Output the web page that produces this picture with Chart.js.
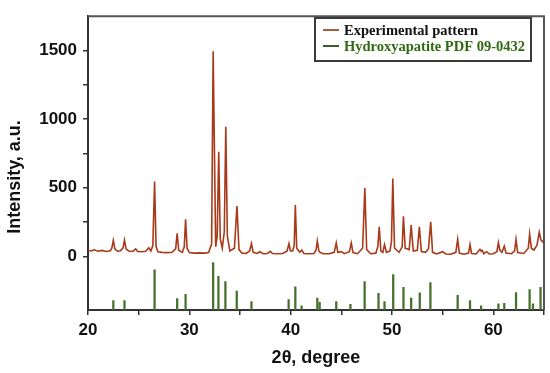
<!DOCTYPE html>
<html>
<head>
<meta charset="utf-8">
<script src="https://cdn.jsdelivr.net/npm/chart.js@4.4.1/dist/chart.umd.min.js"></script>
<style>
    html, body { margin: 0; padding: 0; background: #fff; }
</style>
</head>
<body>
<canvas id="xrd-chart" width="550" height="373"></canvas>
<script>
'use strict';

// ==================== DATA ====================

// Experimental pattern: [2theta, intensity]
const expPattern = [
    [20.0, 45], [20.3, 40], [20.6, 48], [21.0, 38], [21.4, 44], [21.8, 36], [22.2, 42],
    [22.35, 60], [22.5, 117], [22.65, 55], [22.9, 38], [23.2, 42], [23.45, 60], [23.6, 120],
    [23.75, 55], [24.0, 40], [24.4, 36], [24.7, 55], [24.9, 36], [25.3, 34], [25.7, 38],
    [26.0, 63], [26.2, 40], [26.4, 80], [26.57, 545], [26.72, 70], [26.9, 34], [27.3, 30],
    [27.8, 28], [28.3, 30], [28.65, 55], [28.8, 169], [28.95, 45], [29.3, 30], [29.5, 70],
    [29.63, 270], [29.78, 60], [30.0, 28], [30.5, 24], [31.0, 26], [31.5, 24], [31.9, 28],
    [32.2, 90], [32.35, 1494], [32.6, 70], [32.75, 150], [32.9, 762], [33.05, 130],
    [33.25, 60], [33.45, 180], [33.6, 945], [33.75, 150], [34.0, 40], [34.45, 60],
    [34.7, 368], [34.9, 50], [35.2, 24], [35.6, 22], [35.95, 40], [36.13, 94], [36.3, 30],
    [36.7, 22], [36.95, 34], [37.3, 20], [37.7, 22], [38.0, 38], [38.2, 22], [38.7, 20],
    [39.2, 22], [39.65, 40], [39.83, 94], [39.98, 40], [40.2, 40], [40.35, 80], [40.46, 375],
    [40.6, 60], [40.9, 30], [41.1, 47], [41.3, 22], [41.8, 20], [42.3, 22], [42.5, 45],
    [42.63, 113], [42.78, 40], [42.9, 30], [43.2, 20], [43.8, 20], [44.3, 30], [44.5, 99],
    [44.65, 30], [45.0, 35], [45.3, 20], [45.8, 35], [45.98, 99], [46.15, 28], [46.6, 20],
    [47.1, 60], [47.32, 498], [47.5, 50], [47.9, 20], [48.4, 24], [48.6, 70], [48.74, 216],
    [48.9, 40], [49.1, 30], [49.26, 87], [49.45, 30], [49.8, 40], [49.95, 110], [50.08, 568],
    [50.25, 60], [50.7, 30], [51.0, 70], [51.13, 293], [51.3, 60], [51.7, 50], [51.89, 228],
    [52.1, 40], [52.5, 45], [52.7, 216], [52.9, 35], [53.3, 30], [53.6, 55], [53.82, 253],
    [54.0, 30], [54.4, 18], [55.0, 35], [55.3, 18], [55.8, 16], [56.3, 30], [56.48, 125],
    [56.65, 25], [57.1, 16], [57.55, 25], [57.7, 87], [57.85, 22], [58.3, 18], [58.68, 52],
    [58.8, 38], [58.9, 45], [59.05, 20], [59.34, 35], [59.6, 18], [60.0, 20], [60.35, 35],
    [60.5, 101], [60.65, 45], [60.85, 30], [61.08, 75], [61.25, 25], [61.8, 20], [62.1, 40],
    [62.24, 125], [62.4, 28], [63.0, 22], [63.45, 60], [63.58, 164], [63.75, 60], [64.0, 47],
    [64.3, 80], [64.53, 176], [64.7, 120], [64.85, 110], [65.0, 95]
];

// Reference card PDF 09-0432: line positions and relative intensities (%)
const pdfTheta = [
    22.5, 23.6, 26.57, 28.8, 29.63, 32.35, 32.87, 33.56, 34.68, 36.13, 39.8, 40.46, 41.08,
    42.63, 42.86, 44.5, 45.9, 47.3, 48.67, 49.26, 50.12, 51.13, 51.89, 52.74, 53.79, 56.48,
    57.7, 58.79, 60.5, 61.08, 62.24, 63.58, 63.91, 64.66
];
const pdfRelIntensity = [
    20, 20, 85, 24, 33, 100, 71, 60, 40, 18, 22, 49, 9,
    25, 16, 18, 12, 60, 35, 18, 75, 48, 25, 36, 58, 31,
    20, 9, 13, 14, 37, 43, 13, 48
];

const seriesLabels = ['Experimental pattern', 'Hydroxyapatite PDF 09-0432'];
const xTickValues = [20, 25, 30, 35, 40, 45, 50, 55, 60, 65];
const xLabelValues = [20, 30, 40, 50, 60];
const yTickValues = [0, 250, 500, 750, 1000, 1250, 1500];
const yLabelValues = [0, 500, 1000, 1500];
const xTitle = '2\u03b8, degree';
const yTitle = 'Intensity, a.u.';

// ==================== PLUGINS ====================

const framePlugin = {
    id: 'frame',
    afterDraw(chart) {
        const { ctx, chartArea: a } = chart;
        ctx.save();
        ctx.strokeStyle = '#555';
        ctx.lineWidth = 2;
        ctx.beginPath();
        ctx.moveTo(a.left, a.top);
        ctx.lineTo(a.right, a.top);
        ctx.lineTo(a.right, a.bottom);
        ctx.stroke();

        // y title, set lower than the axis centre as in the source figure
        ctx.fillStyle = '#111';
        ctx.font = 'bold 18px "Liberation Sans", Arial, sans-serif';
        ctx.textAlign = 'center';
        ctx.textBaseline = 'middle';
        ctx.translate(15, 177);
        ctx.rotate(-Math.PI / 2);
        ctx.fillText(yTitle, 0, 0);
        ctx.restore();
    }
};

const boxLegendPlugin = {
    id: 'boxLegend',
    afterDraw(chart) {
        const ctx = chart.ctx;
        const textColors = ['#111', '#2f6a12'];
        ctx.save();
        ctx.fillStyle = '#fff';
        ctx.fillRect(315, 18, 216, 43);
        ctx.strokeStyle = '#3a3a3a';
        ctx.lineWidth = 2;
        ctx.strokeRect(315, 18, 216, 43);
        ctx.font = 'bold 14.5px "Liberation Serif", "Times New Roman", serif';
        ctx.textBaseline = 'middle';
        chart.data.datasets.forEach((ds, i) => {
            const y = 30 + i * 16;
            ctx.strokeStyle = ds.legendColor;
            ctx.lineWidth = 2;
            ctx.beginPath();
            ctx.moveTo(323, y);
            ctx.lineTo(339, y);
            ctx.stroke();
            ctx.fillStyle = textColors[i];
            ctx.fillText(ds.label, 344, y + 1);
        });
        ctx.restore();
    }
};

// ==================== CHART ====================

const ctx = document.getElementById('xrd-chart').getContext('2d');

new Chart(ctx, {
    type: 'line',
    data: {
        datasets: [
            {
                type: 'line',
                label: seriesLabels[0],
                data: expPattern.map(p => ({ x: p[0], y: p[1] })),
                borderColor: '#a83a1a',
                legendColor: '#a5603f',
                borderWidth: 1.6,
                pointRadius: 0,
                tension: 0,
                yAxisID: 'y'
            },
            {
                type: 'bar',
                label: seriesLabels[1],
                data: pdfTheta.map((t, i) => ({ x: t, y: pdfRelIntensity[i] })),
                backgroundColor: '#46702c',
                legendColor: '#3d5a2a',
                barThickness: 1.6,
                yAxisID: 'y2'
            }
        ]
    },
    options: {
        responsive: false,
        animation: false,
        layout: { padding: { top: 6, right: 6, left: 0, bottom: 0 } },
        scales: {
            x: {
                type: 'linear',
                min: 20,
                max: 65,
                offset: false,
                afterFit: s => { s.height = 63; },
                afterBuildTicks: s => { s.ticks = xTickValues.map(v => ({ value: v })); },
                border: { color: '#333', width: 2 },
                grid: { drawOnChartArea: false, drawTicks: true, tickLength: 5, color: '#333', lineWidth: 1.5, offset: false },
                ticks: {
                    color: '#111',
                    padding: 5,
                    maxRotation: 0,
                    font: { family: '"Liberation Sans", Arial, sans-serif', size: 17, weight: 'bold' },
                    callback: v => xLabelValues.includes(v) ? v : ''
                },
                title: {
                    display: true,
                    text: xTitle,
                    color: '#111',
                    font: { family: '"Liberation Sans", Arial, sans-serif', size: 18, weight: 'bold' },
                    padding: { top: 6 }
                }
            },
            y: {
                min: -390,
                max: 1750,
                afterFit: s => { s.width = 88; },
                afterBuildTicks: s => { s.ticks = yTickValues.map(v => ({ value: v })); },
                border: { color: '#333', width: 2 },
                grid: { drawOnChartArea: false, drawTicks: true, tickLength: 5, color: '#333', lineWidth: 1.5 },
                ticks: {
                    color: '#111',
                    padding: 6,
                    font: { family: '"Liberation Sans", Arial, sans-serif', size: 17, weight: 'bold' },
                    callback: v => yLabelValues.includes(v) ? v : ''
                }
            },
            y2: {
                display: false,
                min: 0,
                max: 620
            }
        },
        plugins: {
            legend: { display: false },
            tooltip: { enabled: false }
        }
    },
    plugins: [framePlugin, boxLegendPlugin]
});
</script>
</body>
</html>
